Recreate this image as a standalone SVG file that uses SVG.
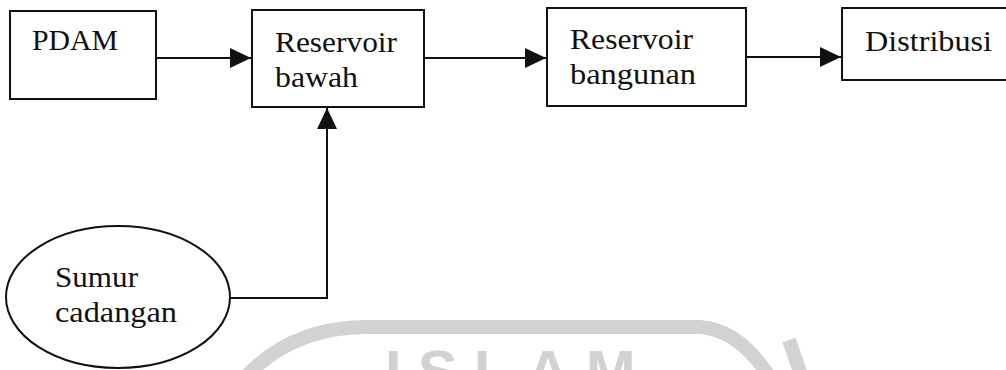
<svg xmlns="http://www.w3.org/2000/svg" width="1006" height="370" viewBox="0 0 1006 370">
<style>
.box{fill:#fff;stroke:#111;stroke-width:2}
.lbl{font-family:"Liberation Serif","Times New Roman",serif;font-size:29px;fill:#111}
.con{fill:none;stroke:#111;stroke-width:2}
.wm{fill:none;stroke:#d2d2d2;stroke-width:14}
.wmt{font-family:"Liberation Sans",Arial,sans-serif;font-weight:bold;font-size:60px;fill:#d2d2d2}
</style>
<defs>
<marker id="ah" markerWidth="22" markerHeight="22" refX="21" refY="11" orient="auto" markerUnits="userSpaceOnUse">
<path d="M0,1 L21,11 L0,21 Z" fill="#111"/>
</marker>
</defs>
<g id="watermark">
<path class="wm" d="M245,378 Q290,328 365,327 L700,327 Q740,330 770,378"/>
<path class="wm" d="M789,340 L800,372" stroke-width="8"/>
<text class="wmt" x="385" y="392" letter-spacing="16">ISLAM</text>
</g>
<g id="connectors">
<line class="con" x1="156" y1="58" x2="251" y2="58" marker-end="url(#ah)"/>
<line class="con" x1="424" y1="58" x2="546" y2="58" marker-end="url(#ah)"/>
<line class="con" x1="746" y1="57" x2="841" y2="57" marker-end="url(#ah)"/>
<polyline class="con" points="230,298 327,298 327,108" marker-end="url(#ah)"/>
</g>
<g id="pdam">
<rect class="box" x="10" y="11" width="146" height="88"/>
<text class="lbl" x="32" y="50" textLength="86" lengthAdjust="spacingAndGlyphs">PDAM</text>
</g>
<g id="reservoir-bawah">
<rect class="box" x="252" y="10" width="172" height="97"/>
<text class="lbl" x="275" y="52" textLength="122" lengthAdjust="spacingAndGlyphs">Reservoir</text>
<text class="lbl" x="275" y="87" textLength="83" lengthAdjust="spacingAndGlyphs">bawah</text>
</g>
<g id="reservoir-bangunan">
<rect class="box" x="547" y="8" width="199" height="98"/>
<text class="lbl" x="570" y="49" textLength="123" lengthAdjust="spacingAndGlyphs">Reservoir</text>
<text class="lbl" x="570" y="84" textLength="126" lengthAdjust="spacingAndGlyphs">bangunan</text>
</g>
<g id="distribusi">
<rect class="box" x="842" y="8" width="172" height="72"/>
<text class="lbl" x="865" y="51" textLength="127" lengthAdjust="spacingAndGlyphs">Distribusi</text>
</g>
<g id="sumur-cadangan">
<ellipse class="box" cx="118" cy="297" rx="112" ry="71"/>
<text class="lbl" x="55" y="287" textLength="83" lengthAdjust="spacingAndGlyphs">Sumur</text>
<text class="lbl" x="55" y="322" textLength="122" lengthAdjust="spacingAndGlyphs">cadangan</text>
</g>
</svg>
